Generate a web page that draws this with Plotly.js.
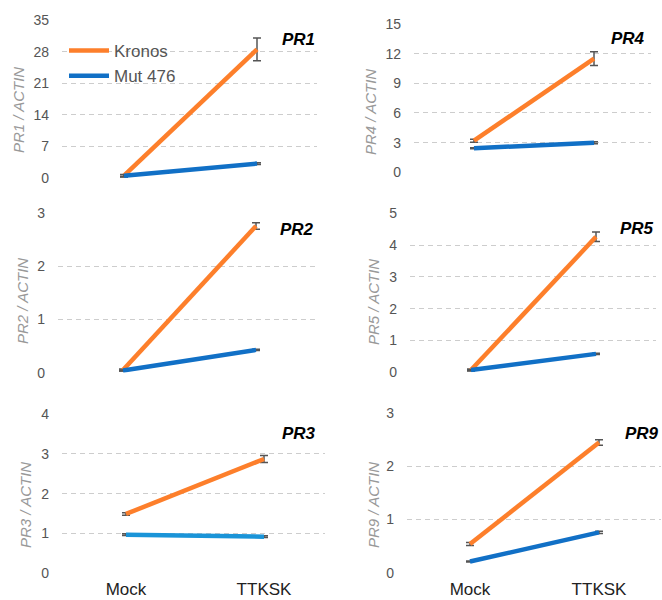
<!DOCTYPE html>
<html>
<head>
<meta charset="utf-8">
<script src="https://cdn.plot.ly/plotly-3.0.1.min.js"></script>
<style>html,body{margin:0;padding:0;background:#fff;}#chart{width:662px;height:600px;}</style>
</head>
<body>
<div id="chart"></div>
<script>
// ---- data ----
const categories = ["Mock", "TTKSK"];
const seriesNames = ["Kronos", "Mut 476"];
const genes = ["PR1", "PR4", "PR2", "PR5", "PR3", "PR9"];
const kronos    = [[0.5, 28.5], [3.2, 11.5], [0.05, 2.76], [0.07, 4.26], [1.49, 2.87], [0.54, 2.45]];
const kronosErr = [[0.3, 2.5],  [0.15, 0.7], [0.02, 0.06], [0.03, 0.15], [0.03, 0.09], [0.03, 0.05]];
const mut476    = [[0.5, 3.2],  [2.43, 3.0], [0.04, 0.43], [0.07, 0.58], [0.97, 0.92], [0.21, 0.76]];
const mut476Err = [[0.2, 0.2],  [0.05, 0.1], [0.01, 0.01], [0.01, 0.02], [0.02, 0.02], [0.01, 0.02]];
const yMax   = [35, 15, 3, 5, 4, 3];
const yDtick = [7, 3, 1, 1, 1, 1];

// ---- layout geometry (pixels) ----
const W = 662, H = 600;
const geom = [
  {x0: 62,  x1: 317, mock: 124, tt: 257, yt: 20,    yb: 178,   tx: 18,  ty: 110, hx: 317, hy: 40,  col: "#1170c6"},
  {x0: 414, x1: 651, mock: 474, tt: 594, yt: 24,    yb: 172.3, tx: 371, ty: 112, hx: 647, hy: 39,  col: "#1170c6"},
  {x0: 58,  x1: 319, mock: 123, tt: 256, yt: 213.3, yb: 372.7, tx: 22,  ty: 301, hx: 316, hy: 230, col: "#1170c6"},
  {x0: 410, x1: 656, mock: 471, tt: 596, yt: 213.3, yb: 372.3, tx: 373, ty: 302, hx: 656, hy: 228, col: "#1170c6"},
  {x0: 62,  x1: 325, mock: 126, tt: 264, yt: 414,   yb: 573.3, tx: 25,  ty: 505, hx: 318, hy: 433, col: "#1a94d8"},
  {x0: 407, x1: 661, mock: 470, tt: 599, yt: 413.3, yb: 572.7, tx: 373, ty: 505, hx: 661, hy: 433, col: "#1170c6"}
];

const ORANGE = "#fd7f2b";
const FONT = "Liberation Sans, Arial, Helvetica, sans-serif";
const traces = [];
const layout = {
  width: W, height: H,
  margin: {l: 0, r: 0, t: 0, b: 0},
  paper_bgcolor: "#fff", plot_bgcolor: "rgba(0,0,0,0)",
  font: {family: FONT, color: "#555"},
  showlegend: true,
  legend: {x: 64 / W, y: 1 - 33 / H, xanchor: "left", yanchor: "top",
           bgcolor: "rgba(0,0,0,0)", font: {size: 17, color: "#555", family: FONT},
           tracegroupgap: 0, itemwidth: 40},
  annotations: [],
};

genes.forEach((g, i) => {
  const G = geom[i];
  const n = i + 1;
  const xa = "x" + (n === 1 ? "" : n), ya = "y" + (n === 1 ? "" : n);
  const unit = G.tt - G.mock;
  const xr = [-(G.mock - G.x0) / unit, 1 + (G.x1 - G.tt) / unit];
  const bottom = i >= 4;
  layout["xaxis" + (n === 1 ? "" : n)] = {
    domain: [G.x0 / W, G.x1 / W], anchor: ya, type: "category", range: xr,
    showgrid: false, zeroline: false, showline: false, ticks: "",
    showticklabels: bottom, tickfont: {size: 17, color: "#222"}, ticklabelstandoff: 4,
    fixedrange: true
  };
  layout["yaxis" + (n === 1 ? "" : n)] = {
    domain: [1 - G.yb / H, 1 - G.yt / H], anchor: xa, range: [0, yMax[i]],
    dtick: yDtick[i], tick0: 0, showgrid: true, gridcolor: "#cdcdcd", griddash: "5px,4px", gridwidth: 1,
    zeroline: false, showline: false, ticks: "", tickfont: {size: 14, color: "#555"},
    ticklabelstandoff: 12, fixedrange: true
  };
  traces.push({
    x: categories, y: kronos[i], xaxis: xa, yaxis: ya, type: "scatter", mode: "lines",
    name: seriesNames[0], legendgroup: "k", showlegend: i === 0,
    line: {color: ORANGE, width: 4.5},
    error_y: {type: "data", array: kronosErr[i], visible: true, color: "#555", thickness: 1.5, width: 4}
  });
  traces.push({
    x: categories, y: mut476[i], xaxis: xa, yaxis: ya, type: "scatter", mode: "lines",
    name: seriesNames[1], legendgroup: "m", showlegend: i === 0,
    line: {color: G.col, width: 4.5},
    error_y: {type: "data", array: mut476Err[i], visible: true, color: "#555", thickness: 1.5, width: 4}
  });
  layout.annotations.push({
    xref: "paper", yref: "paper", x: G.tx / W, y: 1 - G.ty / H, xanchor: "center", yanchor: "middle",
    text: "<i>" + g + " / ACTIN</i>", textangle: -90, showarrow: false,
    font: {size: 15, color: "#999", family: FONT}
  });
  layout.annotations.push({
    xref: "paper", yref: "paper", x: G.hx / W, y: 1 - G.hy / H, xanchor: "right", yanchor: "middle",
    text: "<b><i>" + g + "</i></b>", showarrow: false,
    font: {size: 17, color: "#000", family: FONT}
  });
});

Plotly.newPlot("chart", traces, layout, {displayModeBar: false, staticPlot: true});
</script>
</body>
</html>
